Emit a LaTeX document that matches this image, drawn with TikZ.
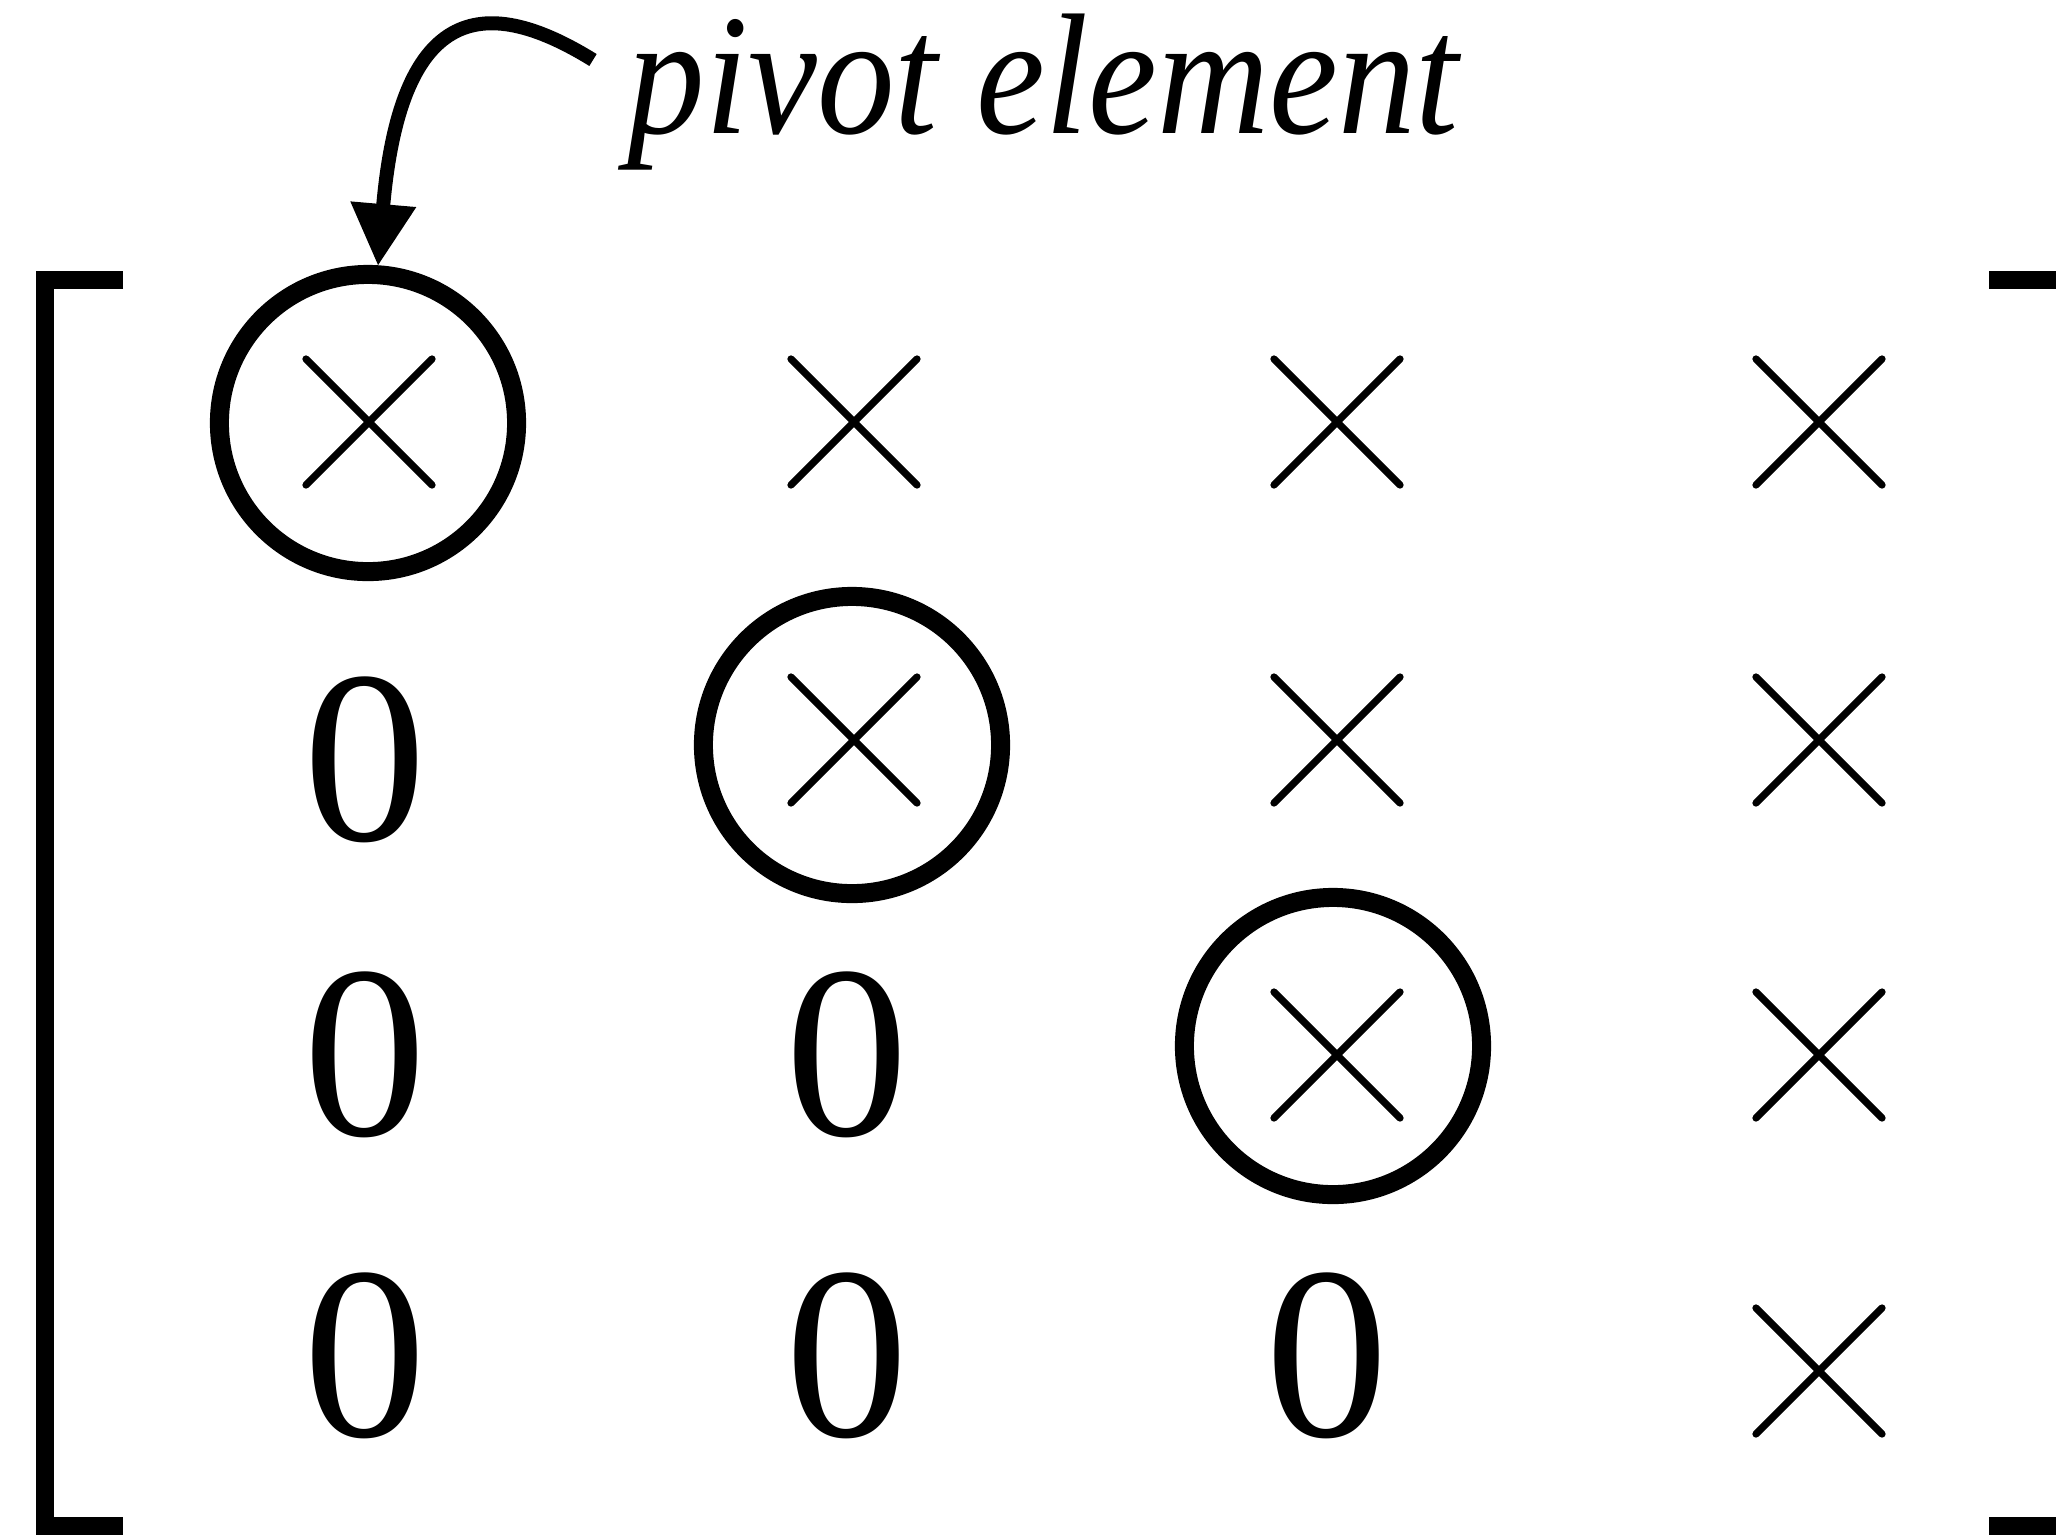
\documentclass[tikz,border=0pt]{standalone}
\usepackage{fontspec}
\setmainfont{Liberation Serif}
\usetikzlibrary{arrows.meta}
\begin{document}
\begin{tikzpicture}[x=0.01cm,y=-0.01cm,
  bracket/.style={line width=0.18cm, line join=miter, line cap=butt},
  zeroentry/.style={inner sep=0pt, outer sep=0pt,
    font=\fontsize{70pt}{70pt}\selectfont},
  crossmark/.style={inner sep=0pt, outer sep=0pt, minimum size=1.45cm,
    path picture={
      \draw[line width=0.072cm, line cap=round]
        ([shift={(-0.63cm,-0.63cm)}]path picture bounding box.center) --
        ([shift={(0.63cm,0.63cm)}]path picture bounding box.center)
        ([shift={(-0.63cm,0.63cm)}]path picture bounding box.center) --
        ([shift={(0.63cm,-0.63cm)}]path picture bounding box.center);}},
  pivotring/.style={circle, draw, line width=0.19cm, minimum size=2.97cm, inner sep=0pt},
  pointer/.style={line width=0.14cm, line cap=butt,
    -{Triangle[width=0.62cm,length=0.62cm]}}]
\useasboundingbox (0,0) rectangle (2056,1535);
\clip (0,0) rectangle (2056,1535);

% matrix brackets
\draw[bracket] (123,280) -- (45,280) -- (45,1526) -- (123,1526);
\draw[bracket] (1989,280) -- (2066,280) -- (2066,1526) -- (1989,1526);

% nonzero entries
\node[crossmark] (x11) at (369,422) {};
\node[crossmark] (x12) at (854,422) {};
\node[crossmark] (x13) at (1337,422) {};
\node[crossmark] (x14) at (1819,422) {};
\node[crossmark] (x22) at (854,740) {};
\node[crossmark] (x23) at (1337,740) {};
\node[crossmark] (x24) at (1819,740) {};
\node[crossmark] (x33) at (1337,1055) {};
\node[crossmark] (x34) at (1819,1055) {};
\node[crossmark] (x44) at (1819,1371) {};

% zero entries below the diagonal
\node[zeroentry] (z21) at (365,760) {0};
\node[zeroentry] (z31) at (365,1055) {0};
\node[zeroentry] (z32) at (847,1055) {0};
\node[zeroentry] (z41) at (365,1356) {0};
\node[zeroentry] (z42) at (847,1356) {0};
\node[zeroentry] (z43) at (1327,1356) {0};

% pivots
\node[pivotring] (p1) at (368,423) {};
\node[pivotring] (p2) at (852,745) {};
\node[pivotring] (p3) at (1333,1046) {};

% label and pointer
\node[font=\fontsize{49pt}{49pt}\selectfont\itshape, inner sep=0pt, anchor=base west,
  xscale=0.9] (lbl) at (627,133) {pivot element};
\coordinate (tail) at (593,60);
\coordinate (tip) at (378,266);
\draw[pointer] (tail) .. controls (480,-10) and (400,10) .. (tip);
\end{tikzpicture}
\end{document}
